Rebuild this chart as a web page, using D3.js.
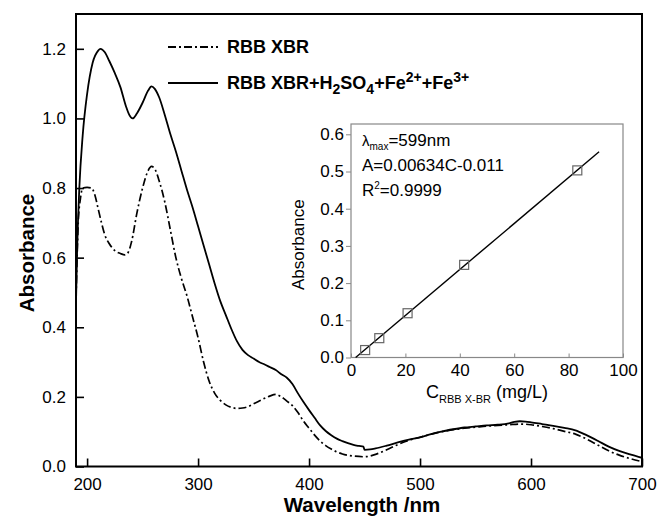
<!DOCTYPE html>
<html><head><meta charset="utf-8">
<script src="https://cdn.jsdelivr.net/npm/d3@7"></script>
<style>body{margin:0;background:#fff}svg{display:block}text{font-family:"Liberation Sans",Arial,sans-serif;fill:#000}</style>
</head><body><svg id="c" width="661" height="522"></svg>
<script>
// Main spectra (wavelength nm, absorbance)
const wlSolid = [190,191,193,196,200,205,210,212,216,220,225,230,235,238,241,245,250,255,258,261,265,270,275,280,285,290,295,300,305,310,315,320,325,330,335,340,345,350,355,360,365,370,375,380,385,390,395,400,405,410,415,420,425,430,435,440,445,449,450,455,460,470,480,490,500,510,520,530,540,550,560,570,580,585,590,595,600,610,620,630,640,650,660,670,680,690,700];
const absSolid = [0.47,0.62,0.80,0.95,1.07,1.16,1.195,1.20,1.19,1.165,1.13,1.09,1.035,1.01,1.00,1.015,1.045,1.08,1.092,1.085,1.06,1.01,0.955,0.905,0.85,0.795,0.745,0.69,0.635,0.58,0.525,0.475,0.435,0.395,0.36,0.335,0.32,0.31,0.30,0.293,0.285,0.277,0.265,0.255,0.237,0.21,0.185,0.162,0.14,0.118,0.102,0.09,0.08,0.073,0.067,0.062,0.059,0.057,0.048,0.049,0.052,0.06,0.069,0.077,0.084,0.093,0.101,0.107,0.112,0.115,0.118,0.120,0.124,0.128,0.130,0.129,0.127,0.122,0.117,0.111,0.104,0.090,0.074,0.057,0.044,0.034,0.025];
const wlDash = [190,191,192,194,196,200,204,207,210,213,216,220,225,230,234,237,240,245,250,255,258,261,265,270,275,280,285,290,295,300,305,310,315,320,325,330,335,340,345,350,355,360,365,370,375,380,385,390,395,400,405,410,415,420,425,430,440,450,460,470,480,490,500,510,520,530,540,550,560,570,580,590,600,610,620,630,640,650,660,670,680,690,700];
const absDash = [0.48,0.60,0.70,0.77,0.80,0.802,0.80,0.78,0.74,0.70,0.665,0.64,0.62,0.612,0.608,0.615,0.645,0.73,0.80,0.85,0.862,0.855,0.82,0.76,0.68,0.60,0.54,0.49,0.43,0.37,0.30,0.245,0.21,0.19,0.177,0.17,0.167,0.168,0.172,0.18,0.188,0.196,0.203,0.207,0.20,0.188,0.175,0.155,0.13,0.11,0.09,0.073,0.06,0.05,0.042,0.036,0.030,0.028,0.035,0.048,0.063,0.075,0.084,0.093,0.100,0.106,0.110,0.113,0.116,0.118,0.120,0.122,0.120,0.115,0.109,0.101,0.093,0.079,0.062,0.045,0.032,0.022,0.014];
const xTicks = [200,300,400,500,600,700];
const yTicks = [0.0,0.2,0.4,0.6,0.8,1.0,1.2];
// Inset calibration
const conc = [5.2,10.4,20.8,41.6,83.2];
const absCal = [0.020,0.052,0.119,0.249,0.503];
const fitC = [1.7,91.2];
const fitA = [0.0,0.553];
const insetXTicks = [0,20,40,60,80,100];
const insetYTicks = [0.0,0.1,0.2,0.3,0.4,0.5,0.6];

const svg = d3.select("#c");
const M = {l:76, r:642, t:14, b:466.5};
const x = d3.scaleLinear().domain([190,700]).range([M.l,M.r]);
const y = d3.scaleLinear().domain([0,1.3]).range([M.b,M.t]);

const gx = svg.append("g").attr("transform",`translate(0,${M.b})`)
  .call(d3.axisBottom(x).tickValues(xTicks).tickSize(-8).tickPadding(11).tickFormat(d3.format("d")));
const gy = svg.append("g").attr("transform",`translate(${M.l},0)`)
  .call(d3.axisLeft(y).tickValues(yTicks).tickSize(-8).tickPadding(10).tickFormat(d3.format(".1f")));
[gx,gy].forEach(g=>{g.select(".domain").remove();g.selectAll("line").attr("stroke","#000").attr("stroke-width",1.6);
  g.selectAll("text").attr("font-size",17).attr("font-family","Liberation Sans, Arial");});
svg.append("rect").attr("x",M.l).attr("y",M.t).attr("width",M.r-M.l).attr("height",M.b-M.t)
  .attr("fill","none").attr("stroke","#000").attr("stroke-width",2);

const line = d3.line().x(d=>x(d[0])).y(d=>y(d[1])).curve(d3.curveMonotoneX);
svg.append("clipPath").attr("id","cp").append("rect").attr("x",M.l).attr("y",M.t).attr("width",M.r-M.l).attr("height",M.b-M.t);
svg.append("path").attr("clip-path","url(#cp)").attr("d",line(d3.zip(wlDash,absDash))).attr("fill","none").attr("stroke","#000").attr("stroke-width",1.7).attr("stroke-dasharray","8,3,2,3");
svg.append("path").attr("clip-path","url(#cp)").attr("d",line(d3.zip(wlSolid,absSolid))).attr("fill","none").attr("stroke","#000").attr("stroke-width",1.8);

// axis titles
svg.append("text").attr("x",(M.l+M.r)/2+3).attr("y",512).attr("text-anchor","middle").attr("font-size",20.5).attr("font-weight","bold").text("Wavelength /nm");
svg.append("text").attr("transform","translate(34,253) rotate(-90)").attr("text-anchor","middle").attr("font-size",20.5).attr("font-weight","bold").text("Absorbance");

// legend
svg.append("line").attr("x1",168).attr("x2",218).attr("y1",47).attr("y2",47).attr("stroke","#000").attr("stroke-width",1.8).attr("stroke-dasharray","8,3,2,3");
svg.append("text").attr("x",227).attr("y",53).attr("font-size",18).attr("font-weight","bold").text("RBB XBR");
svg.append("line").attr("x1",168).attr("x2",218).attr("y1",83).attr("y2",83).attr("stroke","#000").attr("stroke-width",1.8);
const lt = svg.append("text").attr("x",227).attr("y",89).attr("font-size",18).attr("font-weight","bold");
const parts = [["RBB XBR+H",0],["2",1],["SO",0],["4",1],["+Fe",0],["2+",-1],["+Fe",0],["3+",-1]];
let cur = 0;
parts.forEach(([t,k])=>{const target = k===1?5:(k===-1?-7:0);
  lt.append("tspan").attr("dy",target-cur).attr("font-size",k===0?18:14).text(t); cur=target;});

// inset
const I = {l:351, r:623, t:124, b:357.5};
const xi = d3.scaleLinear().domain([0,100]).range([I.l,I.r]);
const yi = d3.scaleLinear().domain([0,0.6]).range([I.b,I.b-6*37.2]);
svg.append("rect").attr("x",I.l).attr("y",I.t).attr("width",I.r-I.l).attr("height",I.b-I.t).attr("fill","#fff").attr("stroke","#888").attr("stroke-width",1.2);
const gxi = svg.append("g").attr("transform",`translate(0,${I.b})`)
  .call(d3.axisBottom(xi).tickValues(insetXTicks).tickSize(-4).tickPadding(6).tickFormat(d3.format("d")));
const gyi = svg.append("g").attr("transform",`translate(${I.l},0)`)
  .call(d3.axisLeft(yi).tickValues(insetYTicks).tickSize(5).tickPadding(2).tickFormat(d3.format(".1f")));
[gxi,gyi].forEach(g=>{g.select(".domain").remove();g.selectAll("line").attr("stroke","#888");
  g.selectAll("text").attr("font-size",17).attr("font-family","Liberation Sans, Arial");});
svg.append("line").attr("x1",xi(fitC[0])).attr("x2",xi(fitC[1]))
  .attr("y1",yi(fitA[0])).attr("y2",yi(fitA[1]))
  .attr("stroke","#000").attr("stroke-width",1.4);
svg.selectAll("rect.pt").data(d3.zip(conc,absCal)).join("rect").attr("class","pt")
  .attr("x",d=>xi(d[0])-4.5).attr("y",d=>yi(d[1])-4.5).attr("width",9).attr("height",9)
  .attr("fill","none").attr("stroke","#666").attr("stroke-width",1.2);
// inset texts
const t1 = svg.append("text").attr("x",362).attr("y",146).attr("font-size",17);
t1.append("tspan").attr("font-size",15).text("λ");
t1.append("tspan").attr("dy",4).attr("font-size",10).text("max");
t1.append("tspan").attr("dy",-4).text("=599nm");
svg.append("text").attr("x",362).attr("y",171).attr("font-size",17).text("A=0.00634C-0.011");
const t3 = svg.append("text").attr("x",362).attr("y",196).attr("font-size",17);
t3.append("tspan").text("R");
t3.append("tspan").attr("dy",-7).attr("font-size",10).text("2");
t3.append("tspan").attr("dy",7).text("=0.9999");
const t4 = svg.append("text").attr("x",487).attr("y",398).attr("text-anchor","middle").attr("font-size",18);
t4.append("tspan").text("C");
t4.append("tspan").attr("dy",5).attr("font-size",11).text("RBB X-BR");
t4.append("tspan").attr("dy",-5).text(" (mg/L)");
svg.append("text").attr("transform",`translate(304,${(I.t+I.b)/2+4}) rotate(-90)`).attr("text-anchor","middle").attr("font-size",17).text("Absorbance");
</script></body></html>
